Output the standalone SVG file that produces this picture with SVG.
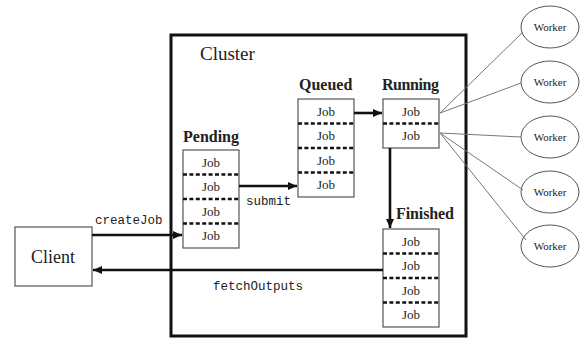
<svg xmlns="http://www.w3.org/2000/svg" width="584" height="340" viewBox="0 0 584 340">
  <defs>
    <marker id="ah" markerUnits="userSpaceOnUse" markerWidth="9" markerHeight="8" refX="9" refY="4" orient="auto">
      <path d="M0,0 L9,4 L0,8 Z" fill="#111"/>
    </marker>
    <style>
      .box{fill:#fff;stroke:#555;stroke-width:1.2}
      .dash{stroke:#111;stroke-width:2.6;stroke-dasharray:4 2.4}
      .job{font-family:"Liberation Serif",serif;font-size:13px;fill:#222;text-anchor:middle}
      .title{font-family:"Liberation Serif",serif;font-size:16px;font-weight:bold;fill:#222}
      .mono{font-family:"Liberation Mono",monospace;font-size:12.5px;fill:#222}
      .arrow{fill:none;stroke:#111;stroke-width:2.6;marker-end:url(#ah)}
      .wline{stroke:#777;stroke-width:1}
      .worker{fill:#fff;stroke:#555;stroke-width:1}
      .wtext{font-family:"Liberation Serif",serif;font-size:11px;fill:#222;text-anchor:middle}
    </style>
  </defs>
  <rect width="584" height="340" fill="#fff"/>

  <g id="cluster">
    <rect x="171" y="35" width="295" height="301" fill="none" stroke="#111" stroke-width="3"/>
    <text x="200" y="60" font-family="Liberation Serif, serif" font-size="19" fill="#222">Cluster</text>
  </g>

  <g id="client">
    <rect class="box" x="15" y="227" width="77" height="59"/>
    <text x="53" y="263" font-family="Liberation Serif, serif" font-size="18" fill="#222" text-anchor="middle">Client</text>
  </g>

  <g id="pending">
    <text class="title" x="183" y="142">Pending</text>
    <rect class="box" x="183" y="150" width="56" height="98"/>
    <line class="dash" x1="183" y1="174.5" x2="239" y2="174.5"/>
    <line class="dash" x1="183" y1="199" x2="239" y2="199"/>
    <line class="dash" x1="183" y1="223.5" x2="239" y2="223.5"/>
    <text class="job" x="211" y="166.5">Job</text>
    <text class="job" x="211" y="191">Job</text>
    <text class="job" x="211" y="215.5">Job</text>
    <text class="job" x="211" y="240">Job</text>
  </g>

  <g id="queued">
    <text class="title" x="299" y="90">Queued</text>
    <rect class="box" x="298" y="99" width="56" height="98"/>
    <line class="dash" x1="298" y1="123.5" x2="354" y2="123.5"/>
    <line class="dash" x1="298" y1="148" x2="354" y2="148"/>
    <line class="dash" x1="298" y1="172.5" x2="354" y2="172.5"/>
    <text class="job" x="326" y="115.5">Job</text>
    <text class="job" x="326" y="140">Job</text>
    <text class="job" x="326" y="164.5">Job</text>
    <text class="job" x="326" y="189">Job</text>
  </g>

  <g id="running">
    <text class="title" x="382" y="90" textLength="57">Running</text>
    <rect class="box" x="383" y="99" width="56" height="49"/>
    <line class="dash" x1="383" y1="123.5" x2="439" y2="123.5"/>
    <text class="job" x="411" y="115.5">Job</text>
    <text class="job" x="411" y="140">Job</text>
  </g>

  <g id="finished">
    <text class="title" x="396" y="219" textLength="58">Finished</text>
    <rect class="box" x="383" y="229" width="56" height="98"/>
    <line class="dash" x1="383" y1="253.5" x2="439" y2="253.5"/>
    <line class="dash" x1="383" y1="278" x2="439" y2="278"/>
    <line class="dash" x1="383" y1="302.5" x2="439" y2="302.5"/>
    <text class="job" x="411" y="245.5">Job</text>
    <text class="job" x="411" y="270">Job</text>
    <text class="job" x="411" y="294.5">Job</text>
    <text class="job" x="411" y="319">Job</text>
  </g>

  <g id="worker1"><ellipse class="worker" cx="550" cy="27" rx="29" ry="21"/><text class="wtext" x="550" y="31">Worker</text></g>
  <g id="worker2"><ellipse class="worker" cx="550" cy="82" rx="29" ry="21"/><text class="wtext" x="550" y="86">Worker</text></g>
  <g id="worker3"><ellipse class="worker" cx="550" cy="137" rx="29" ry="21"/><text class="wtext" x="550" y="141">Worker</text></g>
  <g id="worker4"><ellipse class="worker" cx="550" cy="192" rx="29" ry="21"/><text class="wtext" x="550" y="196">Worker</text></g>
  <g id="worker5"><ellipse class="worker" cx="550" cy="246" rx="29" ry="21"/><text class="wtext" x="550" y="250">Worker</text></g>

  <g id="connectors">
    <path class="arrow" d="M92 235 H182"/>
    <text class="mono" x="95" y="224">createJob</text>
    <path class="arrow" d="M239 186 H297"/>
    <text class="mono" x="246" y="205">submit</text>
    <path class="arrow" d="M354 113 H382"/>
    <path class="arrow" d="M390 148 V228"/>
    <path class="arrow" d="M383 270 H93"/>
    <text class="mono" x="213" y="290">fetchOutputs</text>
    <line class="wline" x1="440" y1="113" x2="523" y2="32"/>
    <line class="wline" x1="440" y1="113" x2="521" y2="83"/>
    <line class="wline" x1="440" y1="133" x2="521" y2="137"/>
    <line class="wline" x1="440" y1="133" x2="523" y2="190"/>
    <line class="wline" x1="440" y1="133" x2="526" y2="240"/>
  </g>
</svg>
